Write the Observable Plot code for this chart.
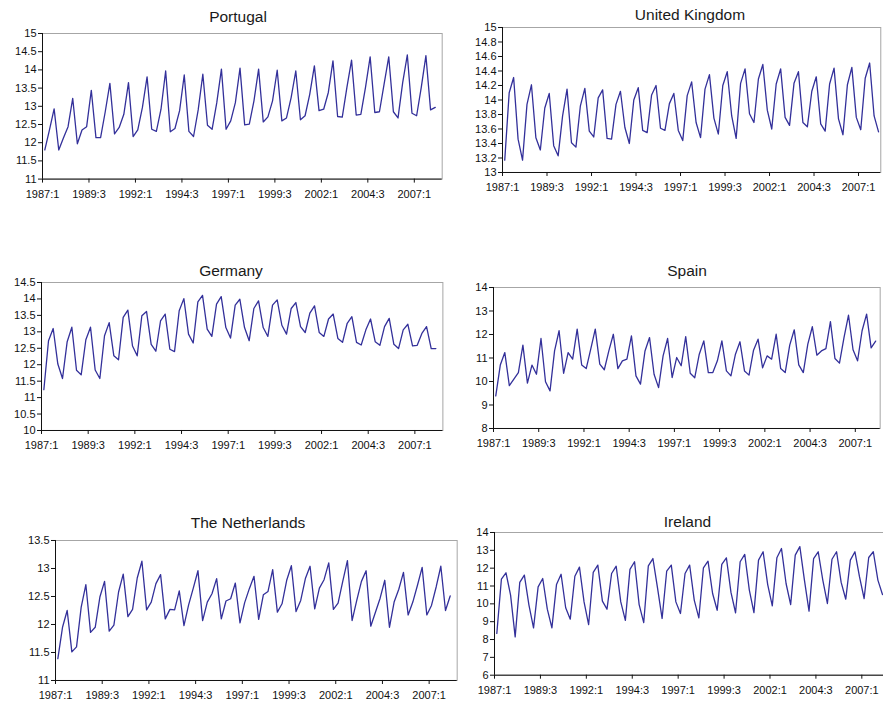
<!DOCTYPE html>
<html><head><meta charset="utf-8">
<script src="https://cdn.jsdelivr.net/npm/d3@7"></script>
<script src="https://cdn.jsdelivr.net/npm/@observablehq/plot@0.6"></script>
<style>
body{margin:0;background:#fff;overflow:hidden;}
#root{position:relative;width:883px;height:701px;overflow:hidden;font-family:"Liberation Sans",Arial,sans-serif;background:#fff;}
.panel{position:absolute;}
.title{position:absolute;width:300px;text-align:center;font-size:15.5px;line-height:15.5px;color:#1a1a1a;font-weight:normal;white-space:nowrap;}
</style></head><body><div id="root"></div>
<script>
const tickLabels = ["1987:1","1989:3","1992:1","1994:3","1997:1","1999:3","2002:1","2004:3","2007:1"];

const portugal = [11.8,12.35,12.93,11.8, 12.13,12.44,13.22,11.97, 12.35,12.44,13.44,12.14, 12.14,12.85,13.63,12.24, 12.42,12.78,13.65,12.17, 12.35,12.97,13.81,12.37, 12.31,12.92,13.97,12.3, 12.39,12.88,13.86,12.31, 12.17,12.9,13.88,12.48, 12.37,13.1,14.02,12.37, 12.6,13.1,14.05,12.49, 12.51,13.15,14.02,12.57, 12.71,13.15,13.99,12.6, 12.68,13.24,13.97,12.63, 12.74,13.33,14.11,12.88, 12.92,13.38,14.25,12.72, 12.7,13.52,14.27,12.76, 12.78,13.52,14.36,12.83, 12.85,13.61,14.36,12.85, 12.68,13.65,14.41,12.81, 12.74,13.52,14.39,12.9, 12.97];

const unitedKingdom = [13.17,14.1,14.31,13.46, 13.17,13.94,14.21,13.48, 13.31,13.89,14.09,13.37, 13.23,13.78,14.15,13.41, 13.35,13.92,14.16,13.57, 13.49,14.03,14.14,13.47, 13.46,13.94,14.12,13.62, 13.4,14.0,14.17,13.58, 13.55,14.07,14.2,13.61, 13.58,13.95,14.09,13.58, 13.44,14.06,14.25,13.69, 13.48,14.15,14.35,13.75, 13.53,14.2,14.39,13.78, 13.47,14.23,14.43,13.81, 13.69,14.29,14.49,13.86, 13.6,14.22,14.43,13.76, 13.65,14.23,14.39,13.69, 13.63,14.12,14.32,13.67, 13.57,14.22,14.44,13.74, 13.52,14.21,14.45,13.76, 13.59,14.3,14.51,13.78, 13.56];

const germany = [11.24,12.73,13.1,12.02, 11.58,12.7,13.14,11.83, 11.69,12.76,13.14,11.84, 11.58,12.88,13.28,12.27, 12.15,13.44,13.66,12.57, 12.27,13.49,13.62,12.62, 12.41,13.33,13.54,12.47, 12.4,13.64,14.01,12.93, 12.66,13.91,14.11,13.08, 12.86,13.84,14.07,13.13, 12.81,13.81,13.99,13.13, 12.73,13.71,13.94,13.13, 12.86,13.81,13.97,13.2, 12.93,13.71,13.89,13.16, 12.98,13.57,13.79,12.98, 12.86,13.39,13.54,12.8, 12.68,13.26,13.46,12.68, 12.6,13.06,13.39,12.7, 12.59,13.16,13.41,12.62, 12.49,13.06,13.23,12.57, 12.59,12.95,13.16,12.49, 12.49];

const spain = [9.39,10.7,11.23,9.82, 10.1,10.38,11.55,9.93, 10.7,10.31,11.83,9.99, 9.6,11.3,12.16,10.35, 11.23,10.95,12.23,10.7, 10.55,11.38,12.23,10.74, 10.5,11.3,12.01,10.55, 10.88,10.95,11.94,10.24, 9.89,11.3,11.87,10.31, 9.74,11.09,11.83,10.17, 11.02,10.67,11.91,10.35, 10.16,11.16,11.73,10.38, 10.38,10.88,11.73,10.45, 10.24,11.16,11.69,10.45, 10.27,11.33,11.8,10.58, 11.09,10.95,12.01,10.55, 10.38,11.55,12.2,10.71, 10.38,11.59,12.33,11.12, 11.3,11.4,12.55,10.98, 10.78,11.87,12.82,11.35, 10.88,12.16,12.87,11.43, 11.72];

const netherlands = [11.39,11.95,12.25,11.51, 11.6,12.31,12.71,11.86, 11.95,12.49,12.77,11.88, 11.99,12.58,12.9,12.14, 12.27,12.83,13.13,12.26, 12.4,12.73,12.89,12.1, 12.27,12.26,12.6,11.98, 12.35,12.65,12.96,12.07, 12.4,12.55,12.82,12.1, 12.42,12.46,12.74,12.03, 12.39,12.64,12.86,12.09, 12.53,12.59,12.98,12.22, 12.37,12.79,13.05,12.23, 12.43,12.82,13.04,12.28, 12.65,12.8,13.1,12.27, 12.38,12.77,13.14,12.07, 12.43,12.77,12.96,11.97, 12.22,12.47,12.79,11.95, 12.4,12.63,12.93,12.17, 12.4,12.7,13.02,12.17, 12.34,12.67,13.04,12.25, 12.51];

const ireland = [8.34,11.38,11.74,10.49, 8.15,11.2,11.61,9.93, 8.65,10.95,11.42,9.7, 8.65,11.08,11.66,9.78, 9.14,11.55,12.06,10.11, 8.84,11.76,12.17,10.15, 9.7,11.7,12.11,10.11, 9.07,11.93,12.36,9.96, 8.95,12.13,12.54,10.9, 9.18,11.83,12.17,10.11, 9.46,11.7,12.17,10.21, 9.21,12.02,12.39,10.58, 9.64,12.21,12.58,10.64, 9.5,12.36,12.77,10.77, 9.51,12.45,12.92,11.08, 9.89,12.58,13.1,11.14, 9.96,12.73,13.21,11.33, 9.59,12.54,12.92,11.33, 10.02,12.5,12.92,11.2, 10.26,12.45,12.92,11.51, 10.3,12.6,12.92,11.33, 10.52];

const panels = [
  {name:"Portugal", values:portugal, y:[11,15], step:0.5, n:86, f:{l:42,r:441.7,t:32.7,b:178.3}, tx:238, tb:22.5},
  {name:"United Kingdom", values:unitedKingdom, y:[13,15], step:0.2, n:85, f:{l:501.7,r:880,t:26.7,b:171.7}, tx:690, tb:20},
  {name:"Germany", values:germany, y:[10,14.5], step:0.5, n:86, f:{l:41.3,r:442.7,t:281.7,b:429.7}, tx:231, tb:275.7},
  {name:"Spain", values:spain, y:[8,14], step:1, n:85.5, f:{l:493.3,r:880,t:286.7,b:427.7}, tx:687, tb:275.7},
  {name:"The Netherlands", values:netherlands, y:[11,13.5], step:0.5, n:86, f:{l:55,r:456.7,t:540,b:680}, tx:248, tb:527.7},
  {name:"Ireland", values:ireland, y:[6,14], step:1, n:85, f:{l:494.3,r:884.6,t:532.3,b:675}, tx:687.5, tb:526.7}
];

const root = document.getElementById("root");
const lineColor = "#33309a";
const mL = 45, mR = 5, mT = 8, mB = 24;

for (const p of panels) {
  const f = p.f;
  const yt = d3.range(p.y[0], p.y[1] + p.step / 2, p.step).map(v => +v.toFixed(2));
  const xt = tickLabels.map((_, k) => k * 10);
  const chart = Plot.plot({
    width: (f.r - f.l) + mL + mR,
    height: (f.b - f.t) + mT + mB,
    marginLeft: mL, marginRight: mR, marginTop: mT, marginBottom: mB,
    style: {fontFamily: '"Liberation Sans", Arial, sans-serif', fontSize: "11px", color: "#111", background: "transparent", overflow: "visible"},
    x: {domain: [0, p.n]},
    y: {domain: p.y},
    marks: [
      Plot.frame({stroke: "#a6a6a6"}),
      Plot.line(p.values, {x: (d, i) => i + 0.5, y: d => d, stroke: lineColor, strokeWidth: 1.3}),
      Plot.ruleX([0], {stroke: "#111"}),
      Plot.ruleY([p.y[0]], {stroke: "#111"}),
      Plot.axisY({ticks: yt, tickSize: 4, tickPadding: 2, tickFormat: d => String(+d.toFixed(1)), label: null}),
      Plot.axisX({ticks: xt, tickSize: 4, tickPadding: 7, tickFormat: d => tickLabels[Math.round(d / 10)], label: null})
    ]
  });
  chart.classList.add("panel");
  chart.style.left = (f.l - mL) + "px";
  chart.style.top = (f.t - mT) + "px";
  root.appendChild(chart);

  const t = document.createElement("div");
  t.className = "title";
  t.textContent = p.name;
  t.style.left = (p.tx - 150) + "px";
  t.style.top = (p.tb - 13.1) + "px";
  root.appendChild(t);
}
</script>
</body></html>
